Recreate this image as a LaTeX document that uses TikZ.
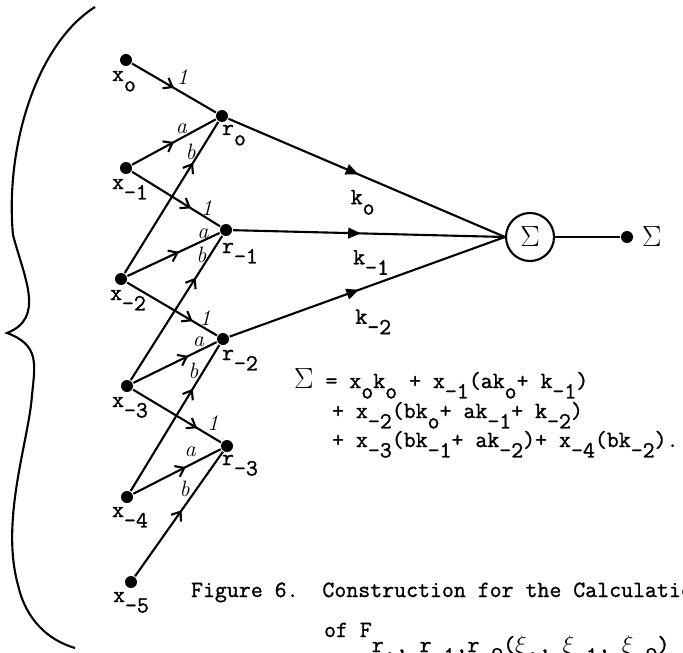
\documentclass[tikz,border=0pt]{standalone}
\usepackage{fontspec}
\usepackage{tikz}
\usetikzlibrary{arrows.meta,decorations.markings}
\newfontfamily\twfont[FakeBold=1.2]{Latin Modern Mono}
\newcommand{\lowsub}[1]{\raisebox{-0.45em}{#1}}

\begin{document}
\begin{tikzpicture}[
  x=0.03cm, y=-0.03cm,
  line width=1.8pt,
  dot/.style={circle, fill, inner sep=0pt, minimum size=0.36cm},
  lbl/.style={font=\fontsize{19.8}{23}\selectfont\twfont\frenchspacing, inner sep=0pt, anchor=base west},
  hand/.style={font=\fontsize{19}{20}\selectfont\itshape, inner sep=0pt},
  sumnode/.style={circle, draw, minimum size=1.44cm, inner sep=0pt, font=\fontsize{27}{27}\selectfont},
  flow/.style={postaction={decorate, decoration={markings, mark=at position #1 with {\arrow{Straight Barb[length=2.4mm, width=3.6mm]}}}}},
  kflow/.style={postaction={decorate, decoration={markings, mark=at position #1 with {\arrow{Triangle[length=3.8mm, width=3.2mm]}}}}}
]
\useasboundingbox (0,0) rectangle (683,652);
\clip (0,0) rectangle (683,652);

% brace
\draw (95,7) .. controls (35,45) and (5,150) .. (13,235)
  .. controls (25,280) and (45,318) .. (7,333)
  .. controls (40,345) and (35,365) .. (32,395)
  .. controls (29,440) and (0,520) .. (18,585)
  .. controls (26,620) and (48,640) .. (75,648);

% inputs
\node[dot] (x0)  at (126,60)  {};
\node[dot] (xm1) at (126,168) {};
\node[dot] (xm2) at (121,279) {};
\node[dot] (xm3) at (127,386) {};
\node[dot] (xm4) at (127,497) {};
\node[dot] (xm5) at (131,582) {};
% r points
\node[dot] (r0)  at (222,116) {};
\node[dot] (rm1) at (226,230) {};
\node[dot] (rm2) at (223,339) {};
\node[dot] (rm3) at (227,446) {};
% summer and output
\node[sumnode] (sig) at (530,237) {$\Sigma$};
\node[dot] (out) at (627,237) {};
\node[font=\fontsize{27}{27}\selectfont, inner sep=0pt, anchor=west] (outl) at (641,237) {$\Sigma$};

% labels
\node[lbl, shift={(-15,21)}] (x0l)  at (x0)  {x\lowsub{o}};
\node[lbl, shift={(-15,21)}] (xm1l) at (xm1) {x\lowsub{-1}};
\node[lbl, shift={(-12,21)}] (xm2l) at (xm2) {x\lowsub{-2}};
\node[lbl, shift={(-16,21)}] (xm3l) at (xm3) {x\lowsub{-3}};
\node[lbl, shift={(-16,20)}] (xm4l) at (xm4) {x\lowsub{-4}};
\node[lbl, shift={(-19,20)}] (xm5l) at (xm5) {x\lowsub{-5}};
\node[lbl, shift={(-1,19)}] (r0l)  at (r0)  {r\lowsub{o}};
\node[lbl, shift={(-5,23)}] (rm1l) at (rm1) {r\lowsub{-1}};
\node[lbl, shift={(-2,21)}] (rm2l) at (rm2) {r\lowsub{-2}};
\node[lbl, shift={(-6,19)}] (rm3l) at (rm3) {r\lowsub{-3}};

% x -> r
\draw[flow=0.5]  (x0)  -- (r0)  node[hand, pos=0.6,  shift={(0,-16)}] (w01) {1};
\draw[flow=0.5]  (xm1) -- (r0)  node[hand, pos=0.59, shift={(0,-9)}]  (w02) {a};
\draw[flow=0.73] (xm2) -- (r0)  node[hand, pos=0.8,  shift={(-9,0)}]  (w03) {b};
\draw[flow=0.67] (xm1) -- (rm1) node[hand, pos=0.85, shift={(0,-10)}] (w11) {1};
\draw[flow=0.56] (xm2) -- (rm1) node[hand, pos=0.82, shift={(0,-7)}]  (w12) {a};
\draw[flow=0.71] (xm3) -- (rm1) node[hand, pos=0.87, shift={(-9,0)}]  (w13) {b};
\draw[flow=0.73] (xm2) -- (rm2) node[hand, pos=0.87, shift={(0,-10)}] (w21) {1};
\draw[flow=0.66] (xm3) -- (rm2) node[hand, pos=0.78, shift={(0,-9)}]  (w22) {a};
\draw[flow=0.70] (xm4) -- (rm2) node[hand, pos=0.82, shift={(-10,0)}] (w23) {b};
\draw[flow=0.73] (xm3) -- (rm3) node[hand, pos=0.91, shift={(0,-15)}] (w31) {1};
\draw[flow=0.6]  (xm4) -- (rm3) node[hand, pos=0.65, shift={(0,-13)}] (w32) {a};
\draw[flow=0.53] (xm5) -- (rm3) node[hand, pos=0.7,  shift={(-12,0)}] (w33) {b};

% r -> summer
\draw[kflow=0.47] (r0)  -- (sig.west) node[lbl, pos=0.46, shift={(-6,31)}] (k0)  {k\lowsub{o}};
\draw[kflow=0.47] (rm1) -- (sig.west) node[lbl, pos=0.46, shift={(-6,31)}] (km1) {k\lowsub{-1}};
\draw[kflow=0.47] (rm2) -- (sig.west) node[lbl, pos=0.46, shift={(-2,33)}] (km2) {k\lowsub{-2}};
\draw (sig) -- (out);

% formula
\node[lbl] (sumA) at (293,388) {{\fontsize{24}{24}\selectfont$\Sigma$} = x\lowsub{o}k\lowsub{o} + x\lowsub{-1}(ak\lowsub{o}+ k\lowsub{-1})};
\node[lbl] (sumB) at (331,418) {+ x\lowsub{-2}(bk\lowsub{o}+ ak\lowsub{-1}+ k\lowsub{-2})};
\node[lbl] (sumC) at (331,447) {+ x\lowsub{-3}(bk\lowsub{-1}+ ak\lowsub{-2})+ x\lowsub{-4}(bk\lowsub{-2}).};

% caption
\node[lbl] (capA) at (190,597) {Figure 6.\ \ Construction for the Calculation};
\node[lbl] (capB) at (323,637) {of F\raisebox{-0.65em}{r\lowsub{o}, r\lowsub{-1},r\lowsub{-2}($\xi$\lowsub{o}, $\xi$\lowsub{-1}, $\xi$\lowsub{-2})}};
\end{tikzpicture}
\end{document}
